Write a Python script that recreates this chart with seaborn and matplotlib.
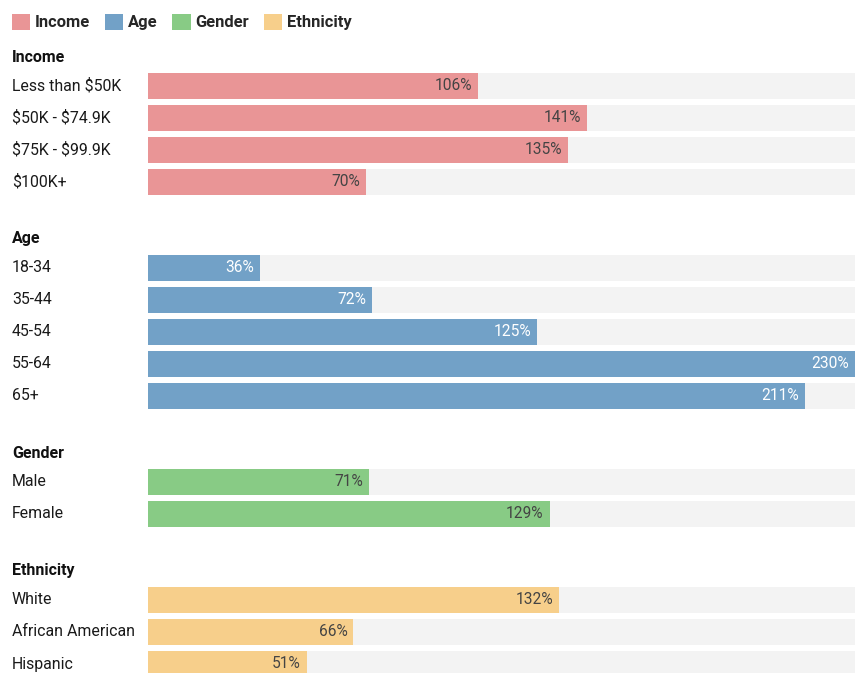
import matplotlib
matplotlib.use("Agg")
from matplotlib import pyplot as plt
from matplotlib.patches import Patch
import pandas as pd
import seaborn as sns

groups = ["Income", "Age", "Gender", "Ethnicity"]
income_labels = ["Less than \\$50K", "\\$50K - \\$74.9K", "\\$75K - \\$99.9K", "\\$100K+"]
income_values = [106, 141, 135, 70]
age_labels = ["18-34", "35-44", "45-54", "55-64", "65+"]
age_values = [36, 72, 125, 230, 211]
gender_labels = ["Male", "Female"]
gender_values = [71, 129]
ethnicity_labels = ["White", "African American", "Hispanic"]
ethnicity_values = [132, 66, 51]

colors = {"Income": "#e99596", "Age": "#72a1c7", "Gender": "#88cb85", "Ethnicity": "#f7cf8b"}
text_colors = {"Income": "#444444", "Age": "#ffffff", "Gender": "#444444", "Ethnicity": "#444444"}

W, H = 855, 673
X0, X1 = 148, 864  # pixel span of the value axis (0 -> max)
XMAX = 230

# layout in pixel rows (y grows downward)
rows = []
headers = []
y = 57
for g, labels, values in [
    ("Income", income_labels, income_values),
    ("Age", age_labels, age_values),
    ("Gender", gender_labels, gender_values),
    ("Ethnicity", ethnicity_labels, ethnicity_values),
]:
    headers.append((g, y))
    y += 29
    for lab, v in zip(labels, values):
        rows.append({"group": g, "label": lab, "value": v, "y": y})
        y += 32
    y += 25
df = pd.DataFrame(rows)
df["bg"] = XMAX

sns.set_theme(style="white")
plt.rcParams["font.family"] = ["Roboto", "DejaVu Sans"]

fig = plt.figure(figsize=(W / 100, H / 100), dpi=100)
ax = fig.add_axes([X0 / W, 0, (X1 - X0) / W, 1])

sns.barplot(data=df, x="bg", y="y", orient="h", native_scale=True, color="#f3f3f3",
            width=26 / 32, saturation=1, ax=ax, linewidth=0)
sns.barplot(data=df, x="value", y="y", hue="group", palette=colors, orient="h",
            native_scale=True, dodge=False, width=26 / 32, saturation=1, ax=ax,
            linewidth=0, legend=False)

ax.set_xlim(0, XMAX)
ax.set_ylim(H, 0)
ax.axis("off")

px = XMAX / (X1 - X0)  # data units per pixel
visible_max = (W - X0) * px
for _, r in df.iterrows():
    end = min(r["value"], visible_max)
    ax.text(end - 6 * px, r["y"], f"{r['value']}%", ha="right", va="center",
            fontsize=11.2, color=text_colors[r["group"]])
    ax.text((12 - X0) / (X1 - X0), r["y"], r["label"], ha="left", va="center", fontsize=11.4,
            color="#1a1a1a", transform=ax.get_yaxis_transform(), clip_on=False)
for g, hy in headers:
    ax.text((12 - X0) / (X1 - X0), hy, g, ha="left", va="center", fontsize=11.5,
            fontweight="bold", color="#111111", transform=ax.get_yaxis_transform(),
            clip_on=False)

handles = [Patch(facecolor=colors[g], edgecolor="none", label=g) for g in groups]
fig.legend(handles=handles, loc="upper left", bbox_to_anchor=(0.0, 0.997), ncol=4,
           frameon=False, handlelength=1.1, handleheight=1.15, handletextpad=0.3,
           columnspacing=0.9, borderaxespad=0.3, prop={"weight": "bold", "size": 11.9})

fig.savefig("out.png", dpi=100)
